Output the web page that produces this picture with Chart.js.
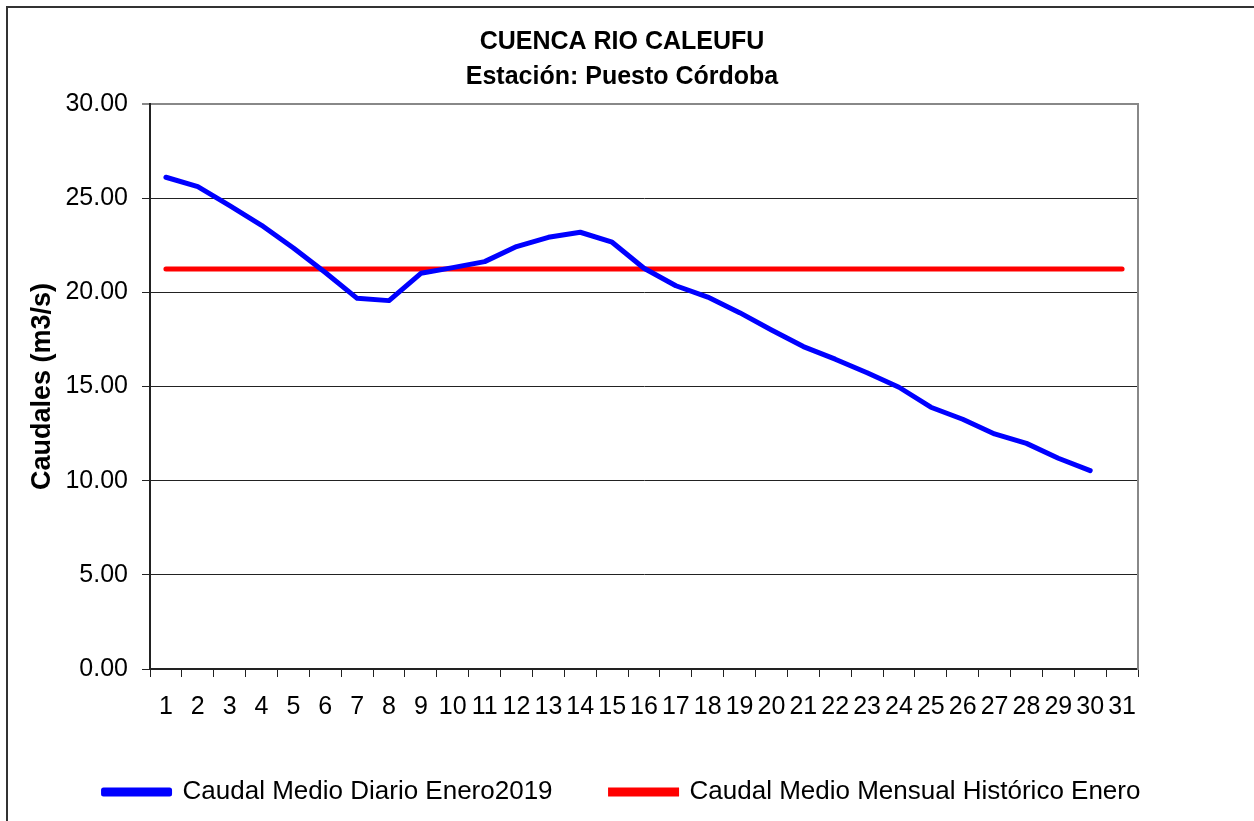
<!DOCTYPE html>
<html lang="es">
<head>
    <meta charset="UTF-8">
    <title>Cuenca Rio Caleufu - Puesto Córdoba</title>
    <style>
        body {
            margin: 0;
            background: #ffffff;
        }
        .wrap {
            width: 1254px;
            height: 821px;
        }
    </style>
</head>
<body>
    <div class="wrap">
        <canvas id="caudales" width="1254" height="821"></canvas>
    </div>

    <script src="https://cdn.jsdelivr.net/npm/chart.js"></script>
    <script>
        // dias de enero
        const dias = ['1', '2', '3', '4', '5', '6', '7', '8', '9', '10', '11', '12', '13', '14', '15', '16',
            '17', '18', '19', '20', '21', '22', '23', '24', '25', '26', '27', '28', '29', '30', '31'];

        // caudal medio diario enero 2019 (m3/s), sin dato el dia 31
        const caudalDiario = [26.11, 25.61, 24.60, 23.56, 22.35, 21.05, 19.68, 19.56, 21.01, 21.31,
            21.63, 22.43, 22.92, 23.19, 22.66, 21.28, 20.35, 19.75, 18.92, 18.00,
            17.12, 16.45, 15.73, 14.96, 13.90, 13.26, 12.48, 11.98, 11.19, 10.53];

        // caudal medio mensual historico de enero
        const caudalHistorico = [21.24, 21.24, 21.24, 21.24, 21.24, 21.24, 21.24, 21.24, 21.24, 21.24,
            21.24, 21.24, 21.24, 21.24, 21.24, 21.24, 21.24, 21.24, 21.24, 21.24,
            21.24, 21.24, 21.24, 21.24, 21.24, 21.24, 21.24, 21.24, 21.24, 21.24, 21.24];

        const yMin = 0;
        const yMax = 30;
        const yPaso = 5;

        const fuente = "'Liberation Sans', Arial, sans-serif";

        // marco exterior del grafico
        const marco = {
            id: 'marco',
            beforeDraw(chart) {
                const ctx = chart.ctx;
                ctx.save();
                ctx.strokeStyle = '#333';
                ctx.lineWidth = 2;
                ctx.strokeRect(7, 7, 1400, 1000);
                ctx.restore();
            }
        };

        const ctx = document.getElementById('caudales').getContext('2d');
        new Chart(ctx, {
            type: 'line',
            data: {
                labels: dias,
                datasets: [{
                    label: 'Caudal Medio Diario Enero2019',
                    data: caudalDiario,
                    borderColor: '#0000ff',
                    backgroundColor: '#0000ff',
                    borderWidth: 5,
                    pointRadius: 0,
                    tension: 0,
                    borderCapStyle: 'round',
                    borderJoinStyle: 'round'
                }, {
                    label: 'Caudal Medio Mensual Histórico Enero',
                    data: caudalHistorico,
                    borderColor: '#ff0000',
                    backgroundColor: '#ff0000',
                    borderWidth: 5,
                    pointRadius: 0,
                    tension: 0,
                    borderCapStyle: 'round'
                }]
            },
            options: {
                responsive: false,
                animation: false,
                devicePixelRatio: 1,
                layout: {
                    padding: { left: 0, right: 10, top: 0, bottom: 6 }
                },
                plugins: {
                    title: {
                        display: true,
                        text: ['CUENCA RIO CALEUFU', 'Estación: Puesto Córdoba'],
                        color: '#000',
                        font: { family: fuente, size: 25, weight: 'bold', lineHeight: 1.4 },
                        padding: { top: 25, bottom: 9 }
                    },
                    legend: {
                        position: 'bottom',
                        labels: {
                            color: '#000',
                            font: { family: fuente, size: 26 },
                            boxWidth: 66,
                            boxHeight: 4,
                            padding: 58
                        }
                    },
                    tooltip: { enabled: false }
                },
                scales: {
                    x: {
                        offset: true,
                        grid: {
                            offset: true,
                            drawOnChartArea: false,
                            drawTicks: true,
                            tickLength: 8,
                            color: '#222'
                        },
                        border: { color: '#222', width: 2 },
                        ticks: {
                            color: '#000',
                            font: { family: fuente, size: 25 },
                            padding: 15,
                            autoSkip: false,
                            maxRotation: 0,
                            minRotation: 0
                        },
                        afterFit(scale) {
                            scale.height = 52;
                        }
                    },
                    y: {
                        min: yMin,
                        max: yMax,
                        ticks: {
                            stepSize: yPaso,
                            color: '#000',
                            font: { family: fuente, size: 25 },
                            padding: 14,
                            callback: (v) => Number(v).toFixed(2)
                        },
                        grid: {
                            color: (c) => (c.tick && c.tick.value === yMax) ? '#888' : '#222',
                            lineWidth: (c) => (c.tick && c.tick.value === yMax) ? 2 : 1,
                            tickLength: 8
                        },
                        border: { color: '#222', width: 2 },
                        title: {
                            display: true,
                            text: 'Caudales (m3/s)',
                            color: '#000',
                            font: { family: fuente, size: 27, weight: 'bold' },
                            padding: { top: 26, bottom: 0 }
                        },
                        afterFit(scale) {
                            scale.width = 150;
                        }
                    },
                    yDer: {
                        position: 'right',
                        min: yMin,
                        max: yMax,
                        ticks: { display: false },
                        grid: { drawOnChartArea: false, drawTicks: false },
                        border: { color: '#888', width: 2 },
                        afterFit(scale) {
                            scale.width = 106;
                        }
                    }
                }
            },
            plugins: [marco]
        });
    </script>
</body>
</html>
